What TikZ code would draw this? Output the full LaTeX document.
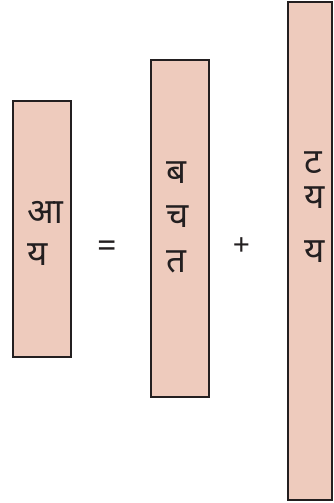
\documentclass[tikz,border=0pt]{standalone}
\usepackage{fontspec}
\newfontfamily\deva[Script=Devanagari]{Noto Sans}
\setmainfont{Noto Sans}
\definecolor{boxfill}{HTML}{EECBBD}
\definecolor{boxline}{HTML}{231F20}
\begin{document}
\begin{tikzpicture}[x=1pt,y=-1pt,
  bar/.style={draw=boxline,fill=boxfill,line width=2pt},
  glyph/.style={font=\deva\fontsize{35}{40}\selectfont,text=boxline,inner sep=0pt,anchor=base west},
  op/.style={text=boxline,inner sep=0pt,anchor=base}]
\useasboundingbox (0,0) rectangle (334,503);
\draw[bar] (13,101) rectangle (71,357);
\draw[bar] (151,60) rectangle (209,397);
\draw[bar] (288,2) rectangle (332,500);
\node[glyph] (a1) at (27.5,223) {आ};
\node[glyph] (a2) at (27.5,265) {य};
\node[op,font=\fontsize{34}{38}\selectfont] (eq) at (107,257) {=};
\node[glyph] (b1) at (166,183) {ब};
\node[glyph] (b2) at (166,227) {च};
\node[glyph] (b3) at (166,272) {त};
\node[op,font=\fontsize{30}{34}\selectfont] (pl) at (241.5,255) {+};
\node[glyph] (c1) at (304,173) {ट};
\node[glyph] (c2) at (304,208) {य};
\node[glyph] (c3) at (304,262) {य};
\end{tikzpicture}
\end{document}
